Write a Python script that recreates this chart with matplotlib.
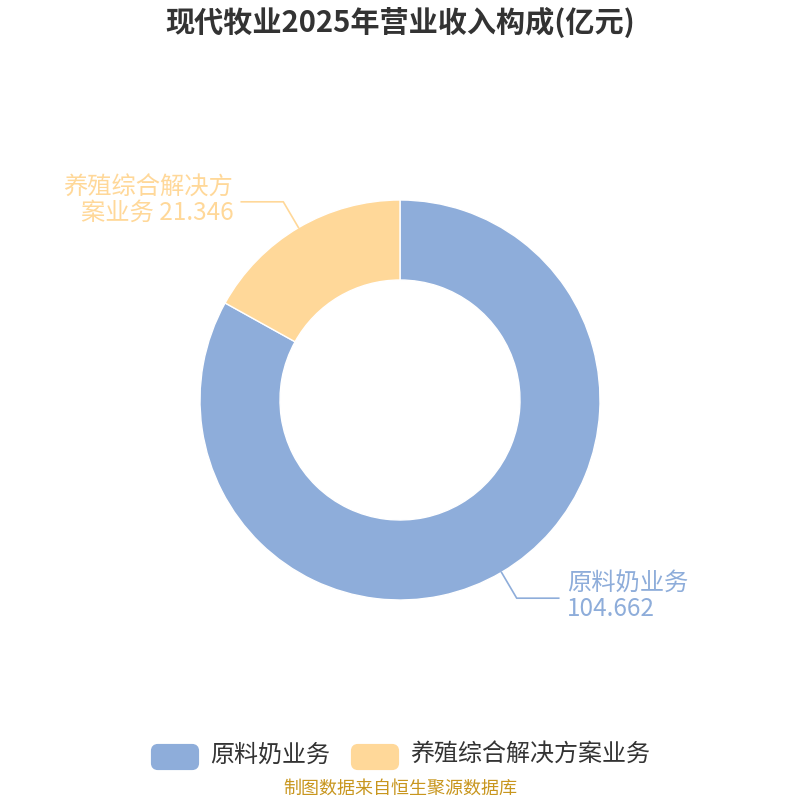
import numpy as np
import matplotlib.pyplot as plt
from matplotlib.patches import FancyBboxPatch

plt.rcParams['font.family'] = ['Noto Sans CJK SC', 'DejaVu Sans']

# データ
categories = ['原料奶业务', '养殖综合解决方案业务']
label_texts = ['原料奶业务\n104.662', '养殖综合解决方\n案业务 21.346']
values = [104.662, 21.346]
colors = ['#8EADDA', '#FFD899']
title = '现代牧业2025年营业收入构成(亿元)'
source = '制图数据来自恒生聚源数据库'

fig = plt.figure(figsize=(8, 8), dpi=100)
ax = fig.add_axes([0, 0, 1, 1])
ax.set_xlim(0, 800)
ax.set_ylim(0, 800)
ax.set_aspect('equal')
ax.axis('off')

cx, cy, R = 400, 400, 200
wedges, _ = ax.pie(values, colors=colors, startangle=90, counterclock=False,
                   center=(cx, cy), radius=R,
                   wedgeprops=dict(width=80, edgecolor='white', linewidth=1))
ax.set_xlim(0, 800)
ax.set_ylim(0, 800)

# ラベルと引き出し線
for w, txt, c in zip(wedges, label_texts, colors):
    mid = np.deg2rad((w.theta1 + w.theta2) / 2)
    x0, y0 = cx + R * np.cos(mid), cy + R * np.sin(mid)
    x1, y1 = cx + 230 * np.cos(mid), cy + 230 * np.sin(mid)
    side = 1 if np.cos(mid) > 0 else -1
    x2 = x1 + side * 42
    ax.plot([x0, x1, x2], [y0, y1, y1], color=c, lw=1.2)
    ax.text(x2 + side * 8, y1 + 2, txt, color=c, fontsize=17.5,
            ha='left' if side > 0 else 'right', va='center',
            multialignment='left' if side > 0 else 'right', linespacing=0.95)

# タイトル
fig.text(0.5, 1 - 22 / 800, title, ha='center', va='center',
         fontsize=21, fontweight='bold', color='#333333')

# 凡例
lx = [150, 350]
for x, name, c in zip(lx, categories, colors):
    ax.add_patch(FancyBboxPatch((x + 3, 800 - 768), 44, 22,
                                boxstyle='round,pad=0,rounding_size=5',
                                fc=c, ec=c, lw=3))
    ax.text(x + 60, 800 - 755, name, fontsize=17.3, color='#333333',
            ha='left', va='center')

fig.text(0.5, 1 - 789 / 800, source, ha='center', va='center',
         fontsize=13, color='#C8961E')

plt.savefig('out.png', dpi=100)
